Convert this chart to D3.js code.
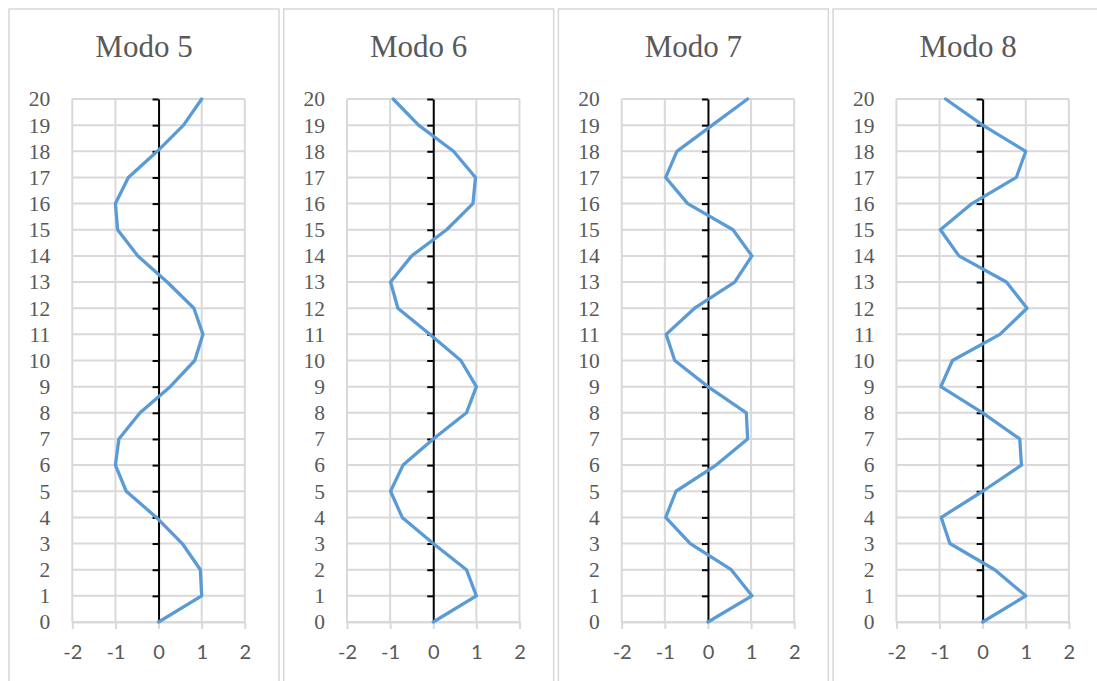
<!DOCTYPE html>
<html>
<head>
<meta charset="utf-8">
<script src="https://cdn.jsdelivr.net/npm/d3@7/dist/d3.min.js"></script>
<style>
  html, body { margin: 0; padding: 0; background: #ffffff; }
  svg { display: block; }
</style>
</head>
<body>
<svg id="chart" width="1097" height="681"></svg>
<script>
// Floor levels (vertical axis) and normalized mode shapes per floor
const levels = d3.range(0, 21);
const titles = ["Modo 5", "Modo 6", "Modo 7", "Modo 8"];
const modo5 = [0, 1.0, 0.97, 0.55, -0.05, -0.75, -1.0, -0.92, -0.43, 0.27, 0.84, 1.03, 0.82, 0.2, -0.48, -0.95, -1.0, -0.7, -0.03, 0.58, 1.0];
const modo6 = [0, 1.0, 0.77, 0.0, -0.72, -0.99, -0.7, 0.0, 0.77, 1.0, 0.64, -0.08, -0.82, -0.99, -0.5, 0.31, 0.92, 0.98, 0.47, -0.34, -0.93];
const modo7 = [0, 1.02, 0.54, -0.41, -0.98, -0.74, 0.19, 0.92, 0.89, 0.0, -0.77, -0.97, -0.31, 0.62, 1.02, 0.58, -0.47, -0.98, -0.72, 0.1, 0.92];
const modo8 = [0, 1.0, 0.28, -0.76, -0.96, 0.0, 0.9, 0.86, 0.0, -0.97, -0.7, 0.4, 1.03, 0.55, -0.55, -0.98, -0.25, 0.78, 1.0, 0.0, -0.86];
const xTicks = [-2, -1, 0, 1, 2];
const yTicks = d3.range(0, 21);

const series = [modo5, modo6, modo7, modo8];

const svg = d3.select("#chart");
const panelStep = 274.7, panelX0 = 9, panelW = 270;
const plotOffset = 63.3, plotW = 172.5;
const yTop = 99, yBottom = 622;
const grey = "#595959", gridCol = "#d9d9d9", lineCol = "#5b9bd5";

series.forEach((vals, i) => {
  const pl = panelX0 + panelStep * i;
  const g = svg.append("g");

  // panel frame
  g.append("rect")
    .attr("x", pl).attr("y", 9)
    .attr("width", panelW).attr("height", 720)
    .attr("fill", "#ffffff")
    .attr("stroke", gridCol).attr("stroke-width", 1.6);

  const x = d3.scaleLinear().domain([-2, 2]).range([pl + plotOffset, pl + plotOffset + plotW]);
  const y = d3.scaleLinear().domain([0, 20]).range([yBottom, yTop]);

  // title
  g.append("text")
    .attr("x", pl + panelW / 2).attr("y", 57)
    .attr("text-anchor", "middle")
    .attr("font-family", "'Liberation Serif', 'Times New Roman', serif")
    .attr("font-size", 31)
    .attr("fill", grey)
    .text(titles[i]);

  // horizontal grid
  g.append("g").selectAll("line").data(yTicks).join("line")
    .attr("x1", x(-2)).attr("x2", x(2))
    .attr("y1", d => y(d)).attr("y2", d => y(d))
    .attr("stroke", gridCol).attr("stroke-width", 2);

  // vertical grid
  g.append("g").selectAll("line").data(xTicks.filter(d => d !== 0)).join("line")
    .attr("x1", d => x(d)).attr("x2", d => x(d))
    .attr("y1", y(0)).attr("y2", y(20))
    .attr("stroke", gridCol).attr("stroke-width", 2);

  // bottom value axis with downward ticks
  const xAxis = g.append("g")
    .attr("transform", `translate(0,${y(0)})`)
    .call(d3.axisBottom(x).tickValues(xTicks).tickSize(7).tickSizeOuter(0).tickPadding(16).tickFormat(d3.format("d")));
  xAxis.select(".domain").attr("stroke", gridCol).attr("stroke-width", 2);
  xAxis.selectAll(".tick line").attr("stroke", gridCol).attr("stroke-width", 2);
  xAxis.selectAll("text")
    .attr("fill", grey)
    .attr("font-family", "Lato, 'Open Sans', sans-serif")
    .attr("font-size", 20)
    .text(d => d < 0 ? "-" + Math.abs(d) : d);

  // floor labels at the left
  const yLab = g.append("g")
    .attr("transform", `translate(${x(-2)},0)`)
    .call(d3.axisLeft(y).tickValues(yTicks).tickSize(0).tickPadding(22).tickFormat(d3.format("d")));
  yLab.select(".domain").remove();
  yLab.selectAll("text")
    .attr("fill", grey)
    .attr("font-family", "'Liberation Serif', 'Times New Roman', serif")
    .attr("font-size", 21.5);

  // black vertical axis at zero with left ticks
  const zAxis = g.append("g")
    .attr("transform", `translate(${x(0)},0)`)
    .call(d3.axisLeft(y).tickValues(yTicks.filter(d => d > 0)).tickSize(6).tickSizeOuter(0).tickFormat(""));
  zAxis.select(".domain").attr("stroke", "#000").attr("stroke-width", 2);
  zAxis.selectAll(".tick line").attr("stroke", "#000").attr("stroke-width", 2);

  // mode shape
  const line = d3.line().x(d => x(d[1])).y(d => y(d[0]));
  g.append("path")
    .datum(levels.map((lv, k) => [lv, vals[k]]))
    .attr("d", line)
    .attr("fill", "none")
    .attr("stroke", lineCol)
    .attr("stroke-width", 3.3)
    .attr("stroke-linejoin", "round")
    .attr("stroke-linecap", "round");
});
</script>
</body>
</html>
